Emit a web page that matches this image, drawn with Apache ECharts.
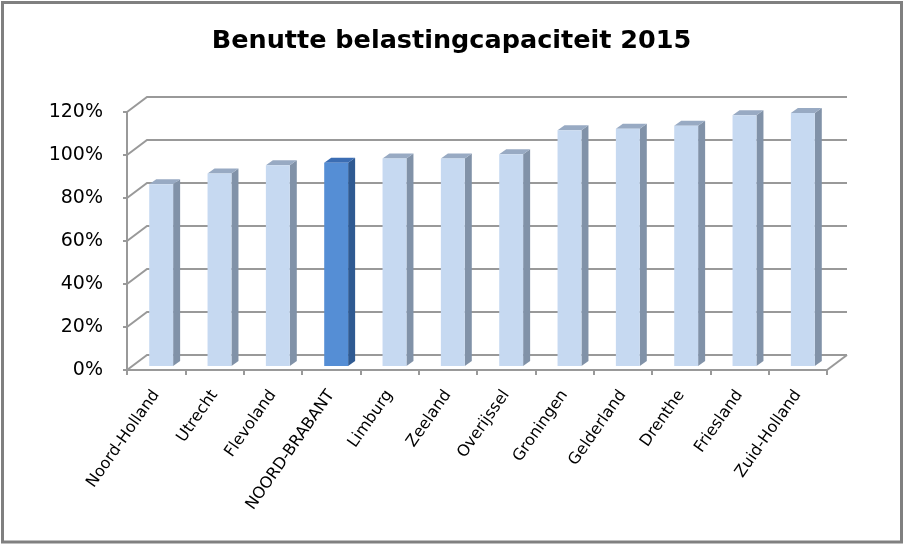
<!DOCTYPE html>
<html><head><meta charset="utf-8">
<script src="https://cdn.jsdelivr.net/npm/echarts@6/dist/echarts.min.js"></script>
<style>html,body{margin:0;padding:0;background:#fff}#c{width:903px;height:544px}</style>
</head><body><div id="c"></div>
<script>
const titleText = 'Benutte belastingcapaciteit 2015';
const categories = ['Noord-Holland','Utrecht','Flevoland','NOORD-BRABANT','Limburg','Zeeland','Overijssel','Groningen','Gelderland','Drenthe','Friesland','Zuid-Holland'];
const values = [84.5, 89.5, 93.4, 94.5, 96.5, 96.5, 98.5, 109.7, 110.4, 111.7, 116.6, 117.7];
const highlighted = ['NOORD-BRABANT'];
const yTicks = [0, 20, 40, 60, 80, 100, 120];

const FONT = '"DejaVu Sans"';
const GRID_COLOR = '#999999';
const DEPTH = [20, -15];      // full floor depth
const FRONT_OFF = [5, -4];    // bar front face offset into depth
const BAR_DEPTH = [7, -5];    // bar side depth
const BAR_RATIO = 0.41;

const chart = echarts.init(document.getElementById('c'), null, {renderer: 'canvas'});

function wallItem(params, api) {
  const cs = params.coordSys;
  const v = api.value(1);
  const y = api.coord([0, v])[1];
  const L = cs.x, R = cs.x + cs.width;
  const style = {stroke: GRID_COLOR, lineWidth: 2, fill: null};
  const children = [
    {type: 'polyline', shape: {points: [[L, y], [L + DEPTH[0], y + DEPTH[1]], [R + DEPTH[0], y + DEPTH[1]]]}, style}
  ];
  if (v === 0) {
    children.push({type: 'line', shape: {x1: R, y1: y, x2: R + DEPTH[0], y2: y + DEPTH[1]}, style});
  }
  return {type: 'group', children};
}

function barItem(params, api) {
  const idx = api.value(0);
  const v = api.value(1);
  const base = api.coord([idx, 0]);
  const top = api.coord([idx, v]);
  const bw = api.size([1, 0])[0] * BAR_RATIO;
  const hl = highlighted.indexOf(categories[idx]) >= 0;
  const cFront = hl ? '#558ed5' : '#c6d9f1';
  const cSide = hl ? '#2f5a92' : '#8192a8';
  const cTop = hl ? '#3b6db3' : '#98aac3';
  const x0 = base[0] - bw / 2 + FRONT_OFF[0];
  const x1 = x0 + bw;
  const yb = base[1] + FRONT_OFF[1];
  const yt = top[1] + FRONT_OFF[1];
  const dx = BAR_DEPTH[0], dy = BAR_DEPTH[1];
  return {type: 'group', children: [
    {type: 'polygon', shape: {points: [[x1, yt], [x1 + dx, yt + dy], [x1 + dx, yb + dy], [x1, yb]]}, style: {fill: cSide}},
    {type: 'polygon', shape: {points: [[x0, yt], [x1, yt], [x1 + dx, yt + dy], [x0 + dx, yt + dy]]}, style: {fill: cTop}},
    {type: 'rect', shape: {x: x0, y: yt, width: bw, height: yb - yt}, style: {fill: cFront}}
  ]};
}

chart.setOption({
  animation: false,
  backgroundColor: '#fff',
  title: {
    text: titleText, left: 'center', top: 23,
    textStyle: {fontFamily: FONT, fontWeight: 'bold', fontSize: 25.5, color: '#000'}
  },
  graphic: [{
    type: 'rect', shape: {x: 2.5, y: 2.5, width: 899, height: 539.5},
    style: {fill: null, stroke: '#808080', lineWidth: 3}, z: 100
  }],
  grid: {left: 127, right: 76, top: 112, bottom: 174, containLabel: false},
  xAxis: {
    type: 'category', data: categories, boundaryGap: true,
    axisLine: {lineStyle: {color: GRID_COLOR, width: 2}},
    axisTick: {show: true, length: 5, lineStyle: {color: GRID_COLOR, width: 2}},
    axisLabel: {interval: 0, rotate: 55, margin: 22, fontFamily: FONT, fontSize: 16, color: '#000'}
  },
  yAxis: {
    type: 'value', min: 0, max: 120, interval: 20,
    axisLine: {show: true, lineStyle: {color: GRID_COLOR, width: 2}},
    axisTick: {show: true, length: 4, lineStyle: {color: GRID_COLOR, width: 2}},
    splitLine: {show: false},
    axisLabel: {formatter: '{value}%', margin: 24, fontFamily: FONT, fontSize: 19, color: '#000'}
  },
  series: [
    {type: 'custom', renderItem: wallItem, data: yTicks.map(v => [0, v]), encode: {x: 0, y: 1}, z: 1, silent: true},
    {type: 'custom', renderItem: barItem, data: values.map((v, i) => [i, v]), encode: {x: 0, y: 1}, z: 2}
  ]
});
</script>
</body></html>
